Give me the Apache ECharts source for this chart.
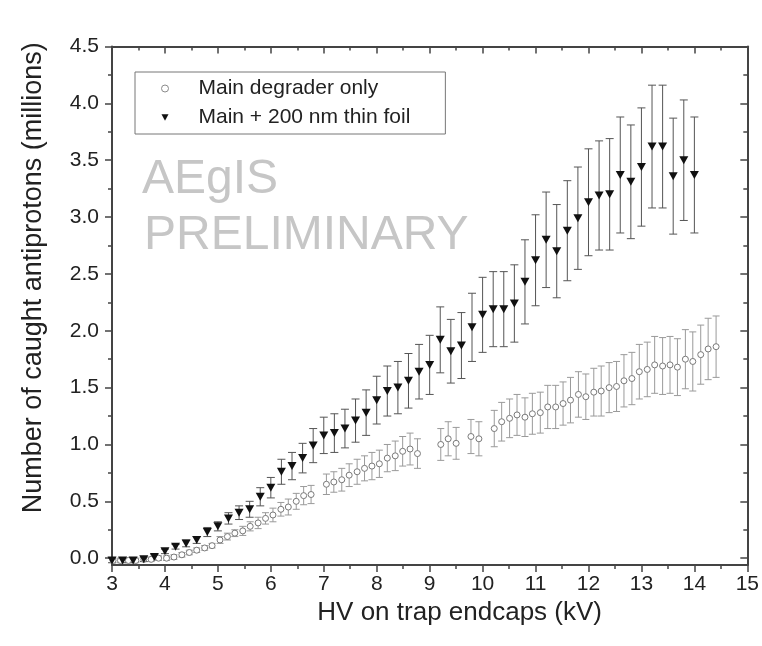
<!DOCTYPE html>
<html><head><meta charset="utf-8">
<script src="https://cdn.jsdelivr.net/npm/echarts@6/dist/echarts.min.js"></script>
<style>html,body{margin:0;padding:0;background:#fff}#c{width:762px;height:646px}</style>
</head><body><div id="c"></div>
<script>
// ---- tick labels ----
const xTicks = [3,4,5,6,7,8,9,10,11,12,13,14,15];
const yTicks = [0,0.5,1,1.5,2,2.5,3,3.5,4,4.5];
const yMinorTicks = [0.25,0.75,1.25,1.75,2.25,2.75,3.25,3.75,4.25];

// ---- series: Main + 200 nm thin foil (triangles) ----
const foilKV = [3.0,3.2,3.4,3.6,3.8,4.0,4.2,4.4,4.6,4.8,5.0,5.2,5.4,5.6,5.8,6.0,6.2,6.4,6.6,6.8,
  7.0,7.2,7.4,7.6,7.8,8.0,8.2,8.4,8.6,8.8,9.0,9.2,9.4,9.6,9.8,10.0,10.2,10.4,10.6,10.8,
  11.0,11.2,11.4,11.6,11.8,12.0,12.2,12.4,12.6,12.8,13.0,13.2,13.4,13.6,13.8,14.0];
const foilVal = [-0.02,-0.02,-0.02,-0.01,0.01,0.06,0.10,0.13,0.16,0.23,0.28,0.35,0.40,0.43,0.54,0.62,0.76,0.81,0.88,0.99,
  1.08,1.10,1.14,1.21,1.28,1.39,1.47,1.50,1.56,1.64,1.70,1.92,1.82,1.87,2.03,2.14,2.19,2.19,2.24,2.43,
  2.62,2.80,2.70,2.88,2.99,3.13,3.19,3.20,3.37,3.31,3.44,3.62,3.62,3.36,3.50,3.37];
const foilErr = [0.02,0.02,0.02,0.02,0.02,0.02,0.02,0.03,0.03,0.04,0.04,0.05,0.06,0.07,0.08,0.09,0.11,0.12,0.13,0.15,
  0.16,0.17,0.17,0.19,0.20,0.21,0.22,0.23,0.24,0.24,0.26,0.29,0.28,0.29,0.30,0.33,0.33,0.33,0.34,0.37,
  0.40,0.42,0.41,0.44,0.45,0.47,0.48,0.49,0.51,0.50,0.52,0.54,0.54,0.51,0.53,0.51];

// ---- series: Main degrader only (open circles) ----
const mainKV = [3.02,3.16,3.31,3.45,3.60,3.74,3.88,4.03,4.17,4.32,4.46,4.60,4.75,4.89,5.04,5.18,5.32,5.47,5.61,5.76,
  5.90,6.04,6.19,6.33,6.48,6.62,6.76,7.05,7.19,7.34,7.48,7.63,7.77,7.91,8.05,8.20,8.35,8.49,8.63,8.77,
  9.21,9.35,9.50,9.78,9.93,10.22,10.36,10.51,10.65,10.80,10.94,11.09,11.23,11.38,11.52,11.66,11.81,11.95,
  12.10,12.24,12.39,12.53,12.67,12.82,12.96,13.11,13.25,13.40,13.54,13.68,13.83,13.97,14.12,14.26,14.41];
const mainVal = [-0.02,-0.02,-0.02,-0.02,-0.01,-0.01,0.00,0.00,0.01,0.03,0.05,0.07,0.09,0.11,0.16,0.19,0.22,0.24,0.28,0.31,
  0.35,0.38,0.43,0.45,0.50,0.55,0.56,0.65,0.67,0.69,0.73,0.76,0.79,0.81,0.83,0.88,0.90,0.94,0.96,0.92,
  1.00,1.05,1.01,1.07,1.05,1.14,1.20,1.23,1.26,1.24,1.27,1.28,1.33,1.33,1.36,1.39,1.44,1.42,
  1.46,1.47,1.50,1.51,1.56,1.58,1.64,1.66,1.70,1.69,1.70,1.68,1.75,1.73,1.79,1.84,1.86];
const mainErr = [0.02,0.02,0.02,0.02,0.02,0.02,0.02,0.02,0.02,0.02,0.02,0.02,0.02,0.02,0.03,0.03,0.03,0.04,0.04,0.05,
  0.05,0.06,0.06,0.07,0.07,0.08,0.08,0.09,0.09,0.10,0.10,0.11,0.11,0.12,0.12,0.12,0.13,0.13,0.14,0.13,
  0.14,0.15,0.14,0.15,0.15,0.16,0.17,0.17,0.18,0.17,0.18,0.18,0.19,0.19,0.19,0.20,0.20,0.20,
  0.21,0.22,0.22,0.22,0.23,0.23,0.24,0.24,0.25,0.25,0.25,0.25,0.26,0.26,0.26,0.27,0.27];

const NAME_MAIN = 'Main degrader only';
const NAME_FOIL = 'Main + 200 nm thin foil';

const FONT = '"Liberation Sans", Arial, Helvetica, sans-serif';
const AX = '#444';
const TXT = '#222';

function pts(kv, val){ return kv.map((x,i)=>[x, val[i]]); }
function bars(kv, val, err){ return kv.map((x,i)=>[x, val[i]-err[i], val[i]+err[i]]); }
function errRender(color, cap){
  return function(params, api){
    const x = api.value(0), lo = api.value(1), hi = api.value(2);
    const p1 = api.coord([x, hi]), p2 = api.coord([x, lo]);
    const style = {stroke: color, lineWidth: 1};
    return {type:'group', children:[
      {type:'line', shape:{x1:p1[0],y1:p1[1],x2:p2[0],y2:p2[1]}, style:style},
      {type:'line', shape:{x1:p1[0]-cap,y1:p1[1],x2:p1[0]+cap,y2:p1[1]}, style:style},
      {type:'line', shape:{x1:p2[0]-cap,y1:p2[1],x2:p2[0]+cap,y2:p2[1]}, style:style}
    ]};
  };
}

const YMIN = -0.06, YMAX = 4.5;
const lineStyle = {color: AX, width: 2};
const tickStyle = {color: AX, width: 1.5};

const chart = echarts.init(document.getElementById('c'), null, {renderer:'canvas'});
chart.setOption({
  backgroundColor: '#fff',
  animation: false,
  textStyle: {fontFamily: FONT},
  grid: {left: 112, right: 10, top: 46.5, bottom: 81, containLabel: false},
  legend: {
    data: [
      {name: NAME_MAIN, icon: 'circle', itemStyle: {color:'#fff', borderColor:'#8a8a8a', borderWidth:1}},
      {name: NAME_FOIL, icon: 'path://M0,0 L10,0 L5,9 Z', itemStyle: {color:'#111'}}
    ],
    orient: 'vertical', left: 135, top: 72,
    itemWidth: 7, itemHeight: 7, itemGap: 8,
    padding: [6, 35, 6, 26],
    borderColor: '#777', borderWidth: 1,
    textStyle: {fontSize: 21, color: TXT, fontFamily: FONT, padding: [0,0,0,25]}
  },
  graphic: [
    {type:'text', left: 142, top: 156, silent: true,
     style:{text:'AEgIS', font:'48px "Liberation Sans", Arial, sans-serif', fill:'#c6c6c6'}},
    {type:'text', left: 144, top: 212, silent: true,
     style:{text:'PRELIMINARY', font:'48px "Liberation Sans", Arial, sans-serif', fill:'#c6c6c6'}}
  ],
  xAxis: [
    {type:'value', position:'bottom', min: xTicks[0], max: xTicks[xTicks.length-1], interval: 1,
     axisLine:{show:true, onZero:false, lineStyle: lineStyle},
     axisTick:{show:true, inside:false, length:7, lineStyle: tickStyle},
     minorTick:{show:true, splitNumber:2, length:4, lineStyle: tickStyle},
     splitLine:{show:false},
     axisLabel:{fontSize:21, color:TXT, margin:9, fontFamily: FONT},
     name:'HV on trap endcaps (kV)', nameLocation:'middle', nameGap:30,
     nameTextStyle:{fontSize:26, color:TXT, fontFamily: FONT, padding:[0,0,0,60]}},
    {type:'value', position:'top', min: xTicks[0], max: xTicks[xTicks.length-1], interval: 1,
     axisLine:{show:true, onZero:false, lineStyle: lineStyle},
     axisTick:{show:true, inside:true, length:7, lineStyle: tickStyle},
     minorTick:{show:true, splitNumber:2, length:4, lineStyle: tickStyle},
     splitLine:{show:false}, axisLabel:{show:false}}
  ],
  yAxis: [
    {type:'value', position:'left', min: YMIN, max: YMAX,
     axisLine:{show:true, onZero:false, lineStyle: lineStyle},
     axisTick:{show:true, inside:false, length:7, lineStyle: tickStyle, customValues: yTicks},
     splitLine:{show:false},
     axisLabel:{fontSize:21, color:TXT, margin:13, fontFamily: FONT, customValues: yTicks,
       formatter: v => v.toFixed(1)},
     name:'Number of caught antiprotons (millions)', nameLocation:'middle', nameGap:65,
     nameTextStyle:{fontSize:27, color:TXT, fontFamily: FONT, padding:[0,0,0,56]}},
    {type:'value', position:'left', min: YMIN, max: YMAX,
     axisLine:{show:false}, splitLine:{show:false}, axisLabel:{show:false},
     axisTick:{show:true, inside:false, length:4, lineStyle: tickStyle, customValues: yMinorTicks}},
    {type:'value', position:'right', min: YMIN, max: YMAX,
     axisLine:{show:true, onZero:false, lineStyle: lineStyle},
     splitLine:{show:false}, axisLabel:{show:false},
     axisTick:{show:true, inside:true, length:7, lineStyle: tickStyle, customValues: yTicks}},
    {type:'value', position:'right', min: YMIN, max: YMAX,
     axisLine:{show:false}, splitLine:{show:false}, axisLabel:{show:false},
     axisTick:{show:true, inside:true, length:4, lineStyle: tickStyle, customValues: yMinorTicks}}
  ],
  series: [
    {type:'custom', name:'errMain', renderItem: errRender('#9a9a9a', 3.5),
     data: bars(mainKV, mainVal, mainErr), encode:{x:0, y:[1,2]}, z:2, silent:true, clip:false},
    {type:'custom', name:'errFoil', renderItem: errRender('#555', 4),
     data: bars(foilKV, foilVal, foilErr), encode:{x:0, y:[1,2]}, z:2, silent:true, clip:false},
    {type:'scatter', name: NAME_MAIN, data: pts(mainKV, mainVal), symbol:'circle', symbolSize:6,
     itemStyle:{color:'#fff', borderColor:'#7a7a7a', borderWidth:1, opacity:1}, z:3, clip:false},
    {type:'scatter', name: NAME_FOIL, data: pts(foilKV, foilVal), symbol:'triangle', symbolRotate:180,
     symbolSize:[9,8], itemStyle:{color:'#111', opacity:1}, z:4, clip:false}
  ]
});
</script>
</body></html>
